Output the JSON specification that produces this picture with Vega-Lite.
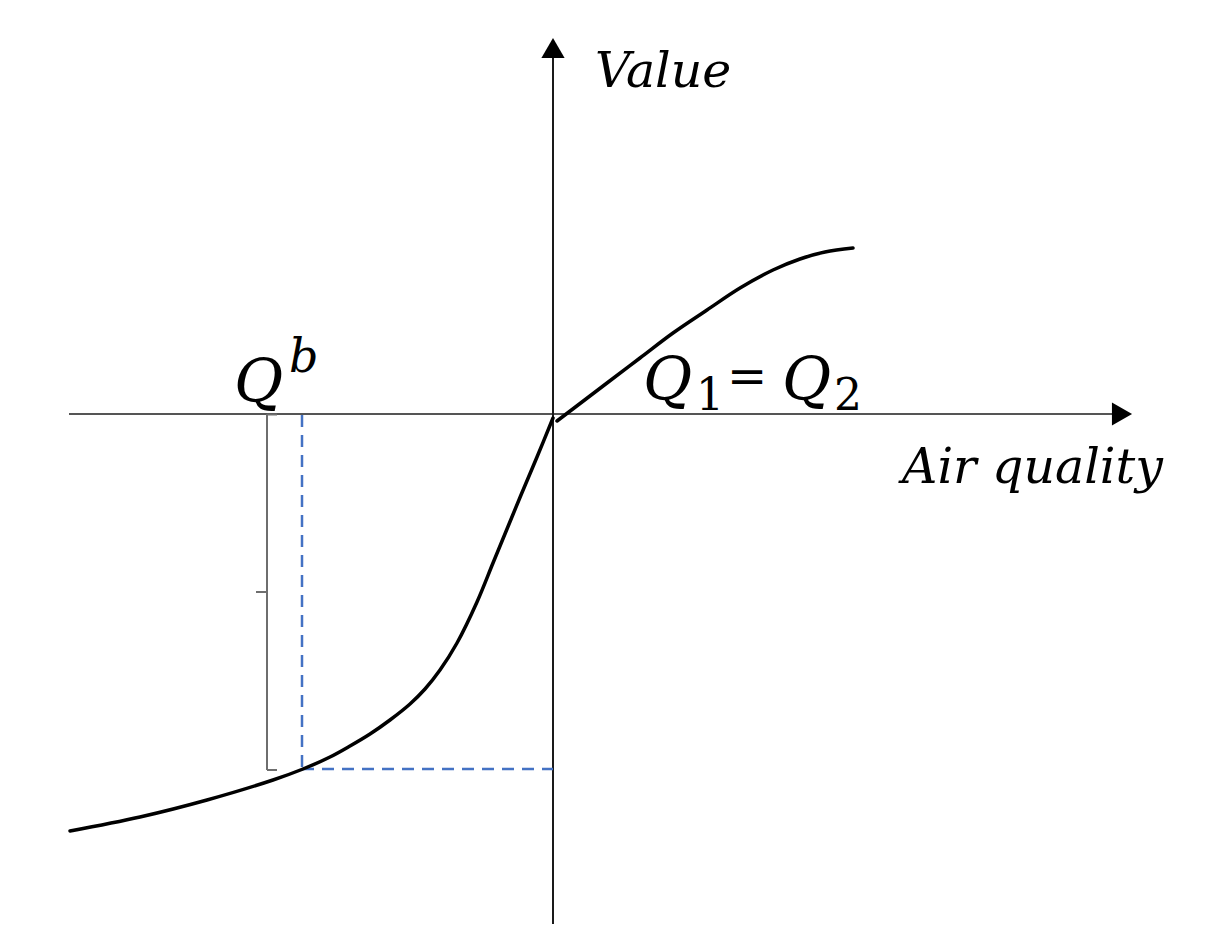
{
  "$schema": "https://vega.github.io/schema/vega-lite/v6.json",
  "width": 1213,
  "height": 926,
  "autosize": {"type": "fit", "contains": "padding"},
  "padding": 0,
  "background": "white",
  "config": {"view": {"stroke": null}},
  "datasets": {
    "hAxis": [{"x": -48.4, "y": 0, "x2": 56.9, "y2": 0}],
    "vAxis": [{"x": 0, "y": -51.0, "x2": 0, "y2": 36.6}],
    "arrowRight": [{"x": 56.9, "y": 0}],
    "arrowUp": [{"x": 0, "y": 36.6}],
    "brace": [
      {"x": -28.6, "y": 0, "x2": -28.6, "y2": -35.6},
      {"x": -28.6, "y": -0.05, "x2": -27.6, "y2": -0.05},
      {"x": -28.6, "y": -35.6, "x2": -27.6, "y2": -35.6},
      {"x": -29.7, "y": -17.8, "x2": -28.6, "y2": -17.8}
    ],
    "guides": [
      {"x": -25.1, "y": -0.1, "x2": -25.1, "y2": -35.5},
      {"x": -25.1, "y": -35.5, "x2": 0, "y2": -35.5}
    ],
    "curve": [
      {"part": "loss", "x": -48.3, "y": -41.7},
      {"part": "loss", "x": -41.3, "y": -40.3},
      {"part": "loss", "x": -34.6, "y": -38.6},
      {"part": "loss", "x": -28.0, "y": -36.6},
      {"part": "loss", "x": -25.0, "y": -35.5},
      {"part": "loss", "x": -22.3, "y": -34.3},
      {"part": "loss", "x": -20.3, "y": -33.2},
      {"part": "loss", "x": -18.3, "y": -32.0},
      {"part": "loss", "x": -16.3, "y": -30.6},
      {"part": "loss", "x": -14.3, "y": -29.0},
      {"part": "loss", "x": -12.8, "y": -27.5},
      {"part": "loss", "x": -11.3, "y": -25.6},
      {"part": "loss", "x": -9.6, "y": -22.9},
      {"part": "loss", "x": -7.6, "y": -18.8},
      {"part": "loss", "x": -6.0, "y": -14.9},
      {"part": "loss", "x": -4.6, "y": -11.5},
      {"part": "loss", "x": -3.2, "y": -8.1},
      {"part": "loss", "x": -1.6, "y": -4.3},
      {"part": "loss", "x": 0.0, "y": -0.4},
      {"part": "gain", "x": 0.4, "y": -0.7},
      {"part": "gain", "x": 5.4, "y": 3.1},
      {"part": "gain", "x": 8.7, "y": 5.6},
      {"part": "gain", "x": 12.0, "y": 8.1},
      {"part": "gain", "x": 15.4, "y": 10.4},
      {"part": "gain", "x": 18.7, "y": 12.6},
      {"part": "gain", "x": 22.0, "y": 14.4},
      {"part": "gain", "x": 24.7, "y": 15.5},
      {"part": "gain", "x": 27.2, "y": 16.2},
      {"part": "gain", "x": 30.0, "y": 16.6}
    ],
    "axisLabels": [
      {"x": 4.2, "y": 32.7, "label": "Value"},
      {"x": 34.9, "y": -6.9, "label": "Air quality"}
    ],
    "bigQ": [
      {"x": -31.9, "y": 1.2, "label": "Q"},
      {"x": 9.0, "y": 1.4, "label": "Q"},
      {"x": 22.9, "y": 1.4, "label": "Q"}
    ],
    "supB": [{"x": -26.4, "y": 4.2, "label": "b"}],
    "subs": [
      {"x": 14.3, "y": 0.4, "label": "1"},
      {"x": 28.1, "y": 0.4, "label": "2"}
    ],
    "eq": [{"x": 17.4, "y": 2.1, "label": "="}]
  },
  "encoding": {
    "x": {"field": "x", "type": "quantitative", "scale": {"domain": [-55.3, 66.0], "nice": false, "zero": false}, "axis": null},
    "y": {"field": "y", "type": "quantitative", "scale": {"domain": [-51.2, 41.4], "nice": false, "zero": false}, "axis": null}
  },
  "layer": [
    {
      "data": {"name": "hAxis"},
      "mark": {"type": "rule", "color": "#555555", "strokeWidth": 2},
      "encoding": {"x2": {"field": "x2"}, "y2": {"field": "y2"}}
    },
    {
      "data": {"name": "vAxis"},
      "mark": {"type": "rule", "color": "#1a1a1a", "strokeWidth": 2},
      "encoding": {"x2": {"field": "x2"}, "y2": {"field": "y2"}}
    },
    {
      "data": {"name": "brace"},
      "mark": {"type": "rule", "color": "#6e6e6e", "strokeWidth": 2},
      "encoding": {"x2": {"field": "x2"}, "y2": {"field": "y2"}}
    },
    {
      "data": {"name": "guides"},
      "mark": {"type": "rule", "color": "#4472C4", "strokeWidth": 2.5, "strokeDash": [12, 8]},
      "encoding": {"x2": {"field": "x2"}, "y2": {"field": "y2"}}
    },
    {
      "data": {"name": "curve"},
      "mark": {"type": "line", "color": "#000000", "strokeWidth": 3.5, "interpolate": "catmull-rom", "strokeCap": "round"},
      "encoding": {"detail": {"field": "part", "type": "nominal"}}
    },
    {
      "data": {"name": "arrowRight"},
      "mark": {"type": "point", "shape": "triangle-right", "filled": true, "color": "#000000", "opacity": 1, "size": 540},
      "encoding": {}
    },
    {
      "data": {"name": "arrowUp"},
      "mark": {"type": "point", "shape": "triangle-up", "filled": true, "color": "#000000", "opacity": 1, "size": 540},
      "encoding": {}
    },
    {
      "data": {"name": "axisLabels"},
      "mark": {"type": "text", "font": "DejaVu Serif", "fontStyle": "italic", "fontSize": 49, "align": "left", "baseline": "alphabetic", "color": "#000000"},
      "encoding": {"text": {"field": "label"}}
    },
    {
      "data": {"name": "bigQ"},
      "mark": {"type": "text", "font": "DejaVu Serif", "fontStyle": "italic", "fontSize": 60, "align": "left", "baseline": "alphabetic", "color": "#000000"},
      "encoding": {"text": {"field": "label"}}
    },
    {
      "data": {"name": "supB"},
      "mark": {"type": "text", "font": "DejaVu Serif", "fontStyle": "italic", "fontSize": 46, "align": "left", "baseline": "alphabetic", "color": "#000000"},
      "encoding": {"text": {"field": "label"}}
    },
    {
      "data": {"name": "subs"},
      "mark": {"type": "text", "font": "DejaVu Serif", "fontSize": 44, "align": "left", "baseline": "alphabetic", "color": "#000000"},
      "encoding": {"text": {"field": "label"}}
    },
    {
      "data": {"name": "eq"},
      "mark": {"type": "text", "font": "DejaVu Serif", "fontSize": 48, "align": "left", "baseline": "alphabetic", "color": "#000000"},
      "encoding": {"text": {"field": "label"}}
    }
  ]
}
